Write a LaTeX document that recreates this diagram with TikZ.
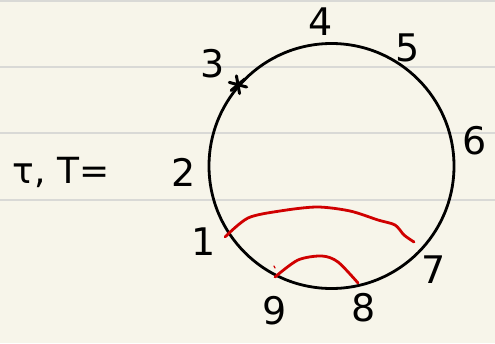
\documentclass[tikz,border=0pt]{standalone}
\usepackage{fontspec}
\setmainfont{DejaVu Sans}
\usetikzlibrary{calc}
\definecolor{paper}{HTML}{F7F5EA}
\definecolor{renglon}{HTML}{D9D9D6}
\definecolor{tinta}{HTML}{D00000}

\begin{document}
\begin{tikzpicture}[x=1pt, y=-1pt,
    num/.style={font=\fontsize{38}{40}\selectfont, inner sep=0pt},
    trazo/.style={tinta, line width=2.8pt, line cap=round, line join=round}]
    % Papel y renglones
    \fill[paper] (0,0) rectangle (495,343);
    \useasboundingbox (0,0) rectangle (495,343);
    \foreach \y in {1,67,133,200} {
        \draw[renglon, line width=1.2pt] (0,\y) -- (495,\y);
    }
    % Circulo
    \node[circle, draw, line width=2.8pt, minimum size=245pt, inner sep=0pt] (circ) at (331.5,166) {};
    % Etiquetas de los puntos
    \foreach \n/\px/\py in {1/204/242, 2/184/172, 3/213/64, 4/321/22, 5/408/48,
                            6/475/141, 7/434/270, 8/364/308, 9/275/311} {
        \node[num] (p\n) at (\px,\py) {\n};
    }
    \node[num, font=\fontsize{36}{40}\selectfont] (lhs) at (61,172) {τ, T=};
    % Estrella en 3
    \coordinate (star) at (circ.139.5);
    \foreach \a in {15,80,140} {
        \draw[line width=3pt, line cap=round] ($(star)+(\a:9)$) -- ($(star)+(\a+180:9)$);
    }
    % Arcos en rojo
    \draw[trazo] plot[smooth] coordinates {(225,237) (248,218) (280,211) (317,207) (350,211)
        (378,220) (395,225) (404,235) (414,242)};
    \draw[trazo] plot[smooth] coordinates {(275,277) (298,260) (322,256) (338,262) (358,283)};
    \draw[tinta, line width=1.2pt, line cap=round] (274,266) -- (275,268);
\end{tikzpicture}
\end{document}
